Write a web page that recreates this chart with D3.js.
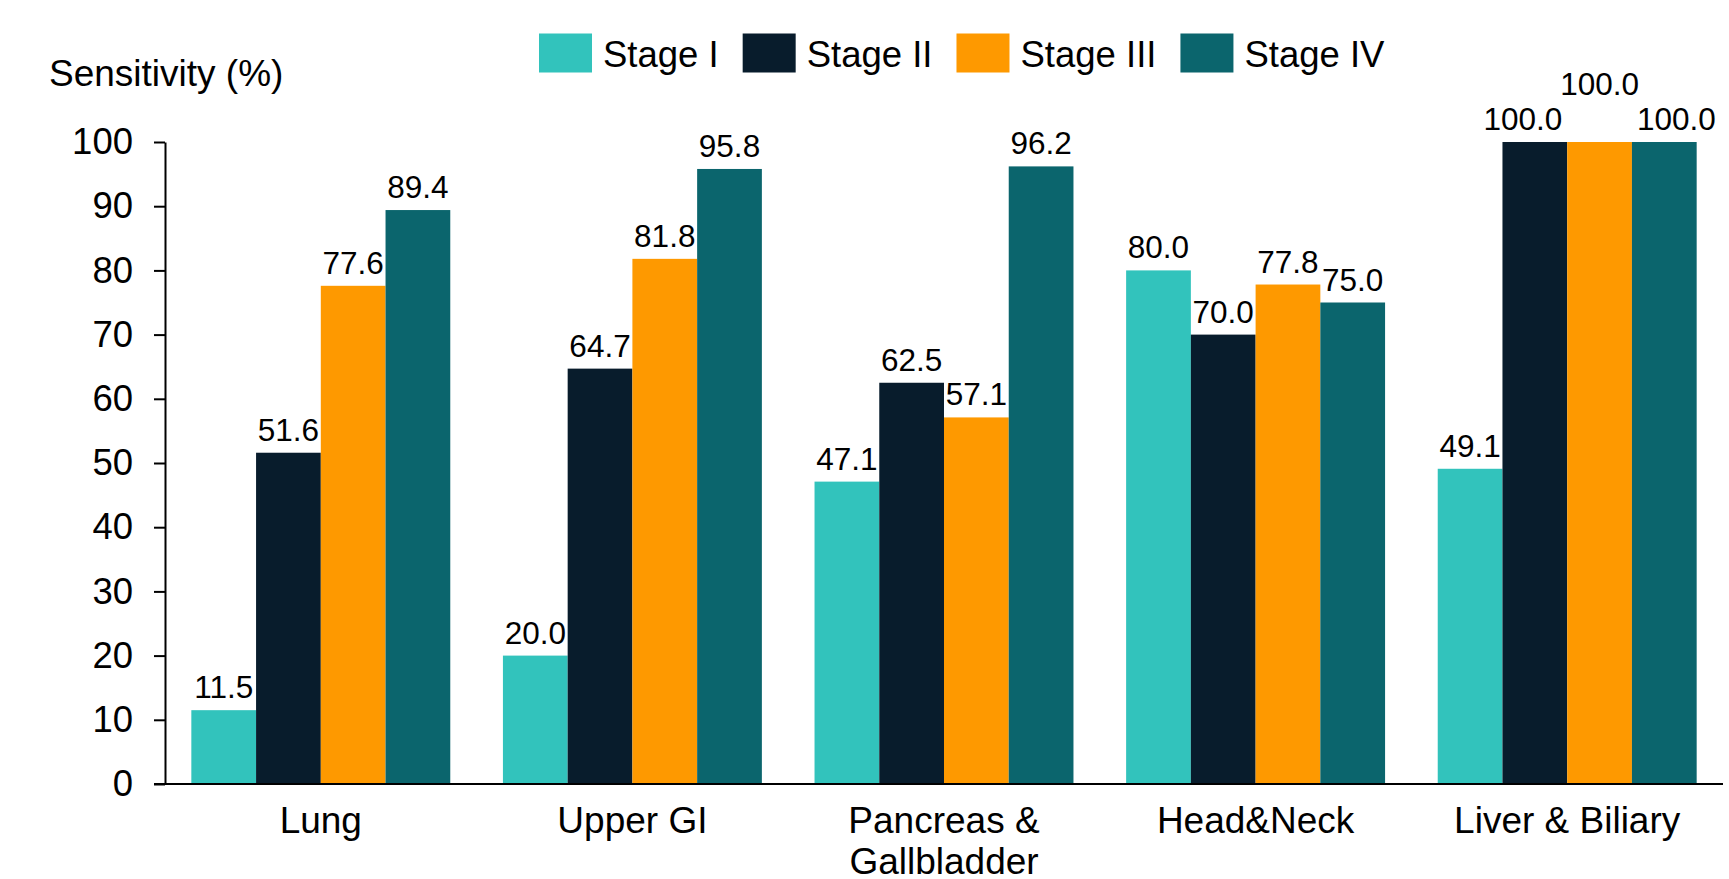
<!DOCTYPE html>
<html>
<head>
<meta charset="utf-8">
<script src="https://cdn.jsdelivr.net/npm/d3@7"></script>
<style>
  html, body { margin: 0; padding: 0; background: #fff; }
  svg { display: block; font-family: "Liberation Sans", Arial, sans-serif; }
</style>
</head>
<body>
<svg id="chart" width="1729" height="879"></svg>
<script>
const categories = ["Lung", "Upper GI", "Pancreas &\nGallbladder", "Head&Neck", "Liver & Biliary"];
const stages = ["Stage I", "Stage II", "Stage III", "Stage IV"];
const stageI   = [11.5, 20.0, 47.1, 80.0, 49.1];
const stageII  = [51.6, 64.7, 62.5, 70.0, 100.0];
const stageIII = [77.6, 81.8, 57.1, 77.8, 100.0];
const stageIV  = [89.4, 95.8, 96.2, 75.0, 100.0];
const colors = ["#32C3BC", "#081C2C", "#FE9900", "#0B656D"];
const yTicks = [0, 10, 20, 30, 40, 50, 60, 70, 80, 90, 100];
const yTitle = "Sensitivity (%)";

const series = [stageI, stageII, stageIII, stageIV];
const svg = d3.select("#chart");

const x0 = d3.scaleBand().domain(categories).range([165, 1723]).paddingInner(0.169).paddingOuter(0.0845);
const x1 = d3.scaleBand().domain(stages).range([0, x0.bandwidth()]);
const y = d3.scaleLinear().domain([0, 100]).range([784, 142]);
const color = d3.scaleOrdinal().domain(stages).range(colors);

// bars
const groups = svg.append("g").selectAll("g")
  .data(categories).join("g")
  .attr("transform", d => `translate(${x0(d)},0)`);

groups.selectAll("rect")
  .data((c, ci) => stages.map((s, si) => ({ cat: c, ci, stage: s, si, value: series[si][ci] })))
  .join("rect")
  .attr("x", d => x1(d.stage))
  .attr("y", d => y(d.value))
  .attr("width", x1.bandwidth())
  .attr("height", d => y(0) - y(d.value))
  .attr("fill", d => color(d.stage));

// data labels (stagger ties at the top so they don't collide)
function labelShift(d) {
  const vals = stages.map((s, si) => series[si][d.ci]);
  const tiedBefore = d.si > 0 && vals[d.si - 1] === d.value && d.value === 100;
  const tiedAfter = d.si < 3 && vals[d.si + 1] === d.value && d.value === 100;
  if (tiedBefore && tiedAfter) return { dx: 0, dy: -35 };
  if (tiedAfter) return { dx: -12, dy: 0 };
  if (tiedBefore) return { dx: 12, dy: 0 };
  return { dx: 0, dy: 0 };
}
groups.selectAll("text.val")
  .data((c, ci) => stages.map((s, si) => ({ cat: c, ci, stage: s, si, value: series[si][ci] })))
  .join("text")
  .attr("class", "val")
  .attr("x", d => x1(d.stage) + x1.bandwidth() / 2 + labelShift(d).dx)
  .attr("y", d => y(d.value) - 12 + labelShift(d).dy)
  .attr("text-anchor", "middle")
  .attr("font-size", 31.5)
  .attr("fill", "#000")
  .text(d => d.value.toFixed(1));

// y axis
const yAxis = svg.append("g")
  .attr("transform", "translate(165,0)")
  .call(d3.axisLeft(y).tickValues(yTicks).tickSize(11).tickPadding(21).tickSizeOuter(0));
yAxis.select(".domain").attr("stroke", "#000").attr("stroke-width", 2);
yAxis.selectAll(".tick line").attr("stroke", "#000").attr("stroke-width", 2);
yAxis.selectAll(".tick text").attr("font-size", 36.5).attr("fill", "#000")
  .attr("font-family", "Liberation Sans, Arial, sans-serif");

// x axis baseline
const xAxis = svg.append("g")
  .attr("transform", `translate(0,${y(0)})`)
  .call(d3.axisBottom(x0).tickSize(0).tickSizeOuter(0).tickFormat(""));
xAxis.select(".domain").attr("stroke", "#000").attr("stroke-width", 2)
  .attr("d", `M154,0H1723`);

// x labels
const xl = svg.append("g").selectAll("text")
  .data(categories).join("text")
  .attr("x", d => x0(d) + x0.bandwidth() / 2)
  .attr("y", 833)
  .attr("text-anchor", "middle")
  .attr("font-size", 37)
  .attr("fill", "#000");
xl.each(function (d) {
  const lines = d.split("\n");
  d3.select(this).selectAll("tspan").data(lines).join("tspan")
    .attr("x", x0(d) + x0.bandwidth() / 2)
    .attr("dy", (l, i) => i === 0 ? 0 : 41)
    .text(l => l);
});

// y title
svg.append("text")
  .attr("x", 49).attr("y", 86)
  .attr("font-size", 37).attr("fill", "#000")
  .text(yTitle);

// legend
const legend = svg.append("g");
let lx = 539;
stages.forEach((s, i) => {
  legend.append("rect")
    .attr("x", lx).attr("y", 33.5).attr("width", 53).attr("height", 39)
    .attr("fill", color(s));
  const t = legend.append("text")
    .attr("x", lx + 64).attr("y", 67)
    .attr("font-size", 36.5).attr("fill", "#000")
    .text(s);
  lx += 64 + t.node().getComputedTextLength() + 24;
});
</script>
</body>
</html>
